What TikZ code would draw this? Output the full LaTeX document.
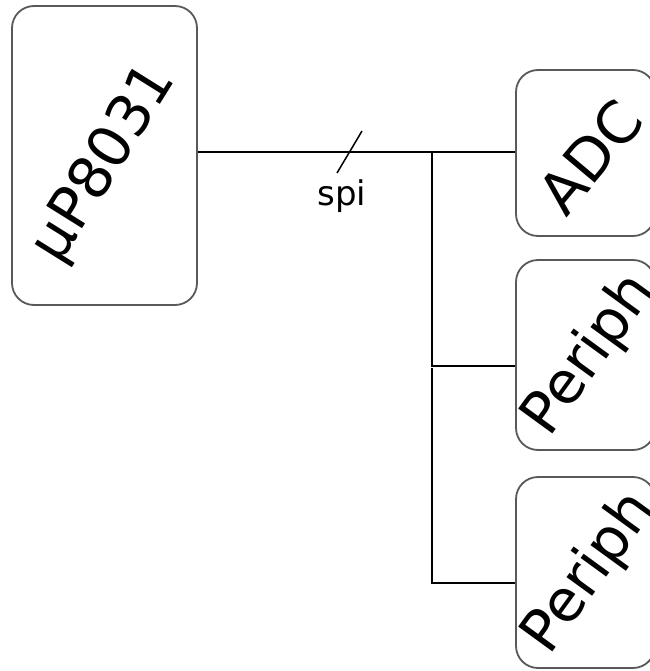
\documentclass[tikz,border=0pt]{standalone}
\usepackage{fontspec}
\setmainfont{DejaVu Sans}
\begin{document}
\begin{tikzpicture}[x=1pt,y=-1pt,
  block/.style={draw=black!65, line width=1.8pt, rounded corners=22pt, fill=white, inner sep=0pt},
  biglabel/.style={font=\fontsize{58}{62}\selectfont},
  wire/.style={draw=black, line width=2pt}]
\useasboundingbox (0,0) rectangle (649,671);
% blocks
\node[block, minimum width=185pt, minimum height=299pt] (mcu) at (104.5,155.5) {};
\node[block, minimum width=139pt, minimum height=166pt] (adc) at (585.5,153) {};
\node[block, minimum width=139pt, minimum height=190pt] (pa) at (585.5,355) {};
\node[block, minimum width=139pt, minimum height=191pt] (pb) at (585.5,572.5) {};
% labels, each turned along its block's diagonal
\node[biglabel, rotate=58] (tmcu) at (105,164) {µP8031};
\node[biglabel, rotate=50] (tadc) at (590,157) {ADC};
\node[biglabel, rotate=54] (tpa) at (590,355) {Periph};
\node[biglabel, rotate=54] (tpb) at (590,573) {Periph};
% bus junctions
\coordinate (j1) at (432,152);
\coordinate (j2) at (432,366);
\coordinate (j3) at (432,368);
\coordinate (j4) at (432,583);
% spi bus
\draw[wire] (mcu.east |- j1) -- (adc.west |- j1);
\draw[wire] (j1) -- (j2) -- (pa.west |- j2);
\draw[wire] (j3) -- (j4) -- (pb.west |- j4);
% bus width mark and name
\coordinate (s1) at (337,173);
\coordinate (s2) at (362,131);
\draw[line width=1.5pt] (s1) -- (s2);
\node[font=\fontsize{34}{36}\selectfont] (spi) at (342,196) {spi};
\end{tikzpicture}
\end{document}
